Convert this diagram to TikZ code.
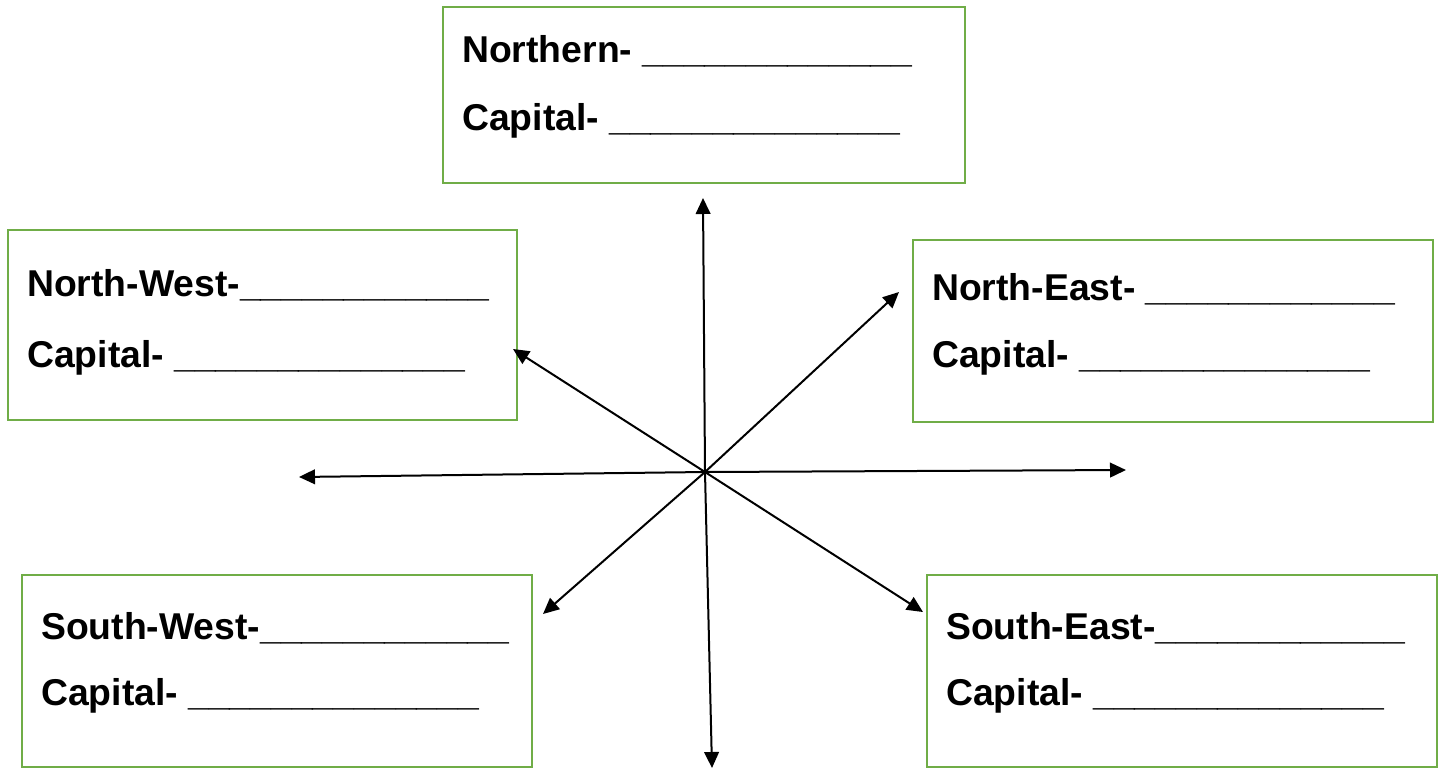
\documentclass[tikz,border=0pt]{standalone}
\usepackage{fontspec}
\setmainfont{Liberation Sans}
\usetikzlibrary{arrows.meta,fit}
\definecolor{boxgreen}{HTML}{70AD47}
\tikzset{
  regbox/.style={draw=boxgreen, line width=1.6pt, inner sep=0pt},
  lbl/.style={anchor=base west, inner sep=0pt, font=\fontsize{28}{34}\selectfont\bfseries},
  dirarrow/.style={line width=1.5pt, -{Triangle[length=12pt,width=11pt]}}
}
\begin{document}
\begin{tikzpicture}[x=0.75pt,y=-0.75pt]
\useasboundingbox (0,0) rectangle (1446,768);
\node[regbox, fit={(443,7) (965,183)}] (nbox) {};
\node[regbox, fit={(8,230) (517,420)}] (nwbox) {};
\node[regbox, fit={(913,240) (1433,422)}] (nebox) {};
\node[regbox, fit={(22,575) (532,767)}] (swbox) {};
\node[regbox, fit={(927,575) (1437,767)}] (sebox) {};
\node[lbl] (ntxt) at ([shift={(20,57)}]nbox.north west) {Northern- \_\_\_\_\_\_\_\_\_\_\_\_\_};
\node[lbl] (ncap) at ([shift={(20,125)}]nbox.north west) {Capital- \_\_\_\_\_\_\_\_\_\_\_\_\_\_};
\node[lbl] (nwtxt) at ([shift={(20,68)}]nwbox.north west) {North-West-\_\_\_\_\_\_\_\_\_\_\_\_};
\node[lbl] (nwcap) at ([shift={(20,139)}]nwbox.north west) {Capital- \_\_\_\_\_\_\_\_\_\_\_\_\_\_};
\node[lbl] (netxt) at ([shift={(20,62)}]nebox.north west) {North-East- \_\_\_\_\_\_\_\_\_\_\_\_};
\node[lbl] (necap) at ([shift={(20,129)}]nebox.north west) {Capital- \_\_\_\_\_\_\_\_\_\_\_\_\_\_};
\node[lbl] (swtxt) at ([shift={(20,66)}]swbox.north west) {South-West-\_\_\_\_\_\_\_\_\_\_\_\_};
\node[lbl] (swcap) at ([shift={(20,132)}]swbox.north west) {Capital- \_\_\_\_\_\_\_\_\_\_\_\_\_\_};
\node[lbl] (setxt) at ([shift={(20,66)}]sebox.north west) {South-East-\_\_\_\_\_\_\_\_\_\_\_\_};
\node[lbl] (secap) at ([shift={(20,132)}]sebox.north west) {Capital- \_\_\_\_\_\_\_\_\_\_\_\_\_\_};
\coordinate (ctr) at (705,472);
\coordinate (tipn) at (703,198);
\coordinate (tips) at (712,768);
\coordinate (tipw) at (299,477);
\coordinate (tipe) at (1126,470);
\coordinate (tipnw) at (513,349);
\coordinate (tipne) at (899,292);
\coordinate (tipsw) at (543,614);
\coordinate (tipse) at (923,612);
\draw[dirarrow](ctr) -- (tipn);
\draw[dirarrow](ctr) -- (tips);
\draw[dirarrow](ctr) -- (tipw);
\draw[dirarrow](ctr) -- (tipe);
\draw[dirarrow](ctr) -- (tipnw);
\draw[dirarrow](ctr) -- (tipne);
\draw[dirarrow](ctr) -- (tipsw);
\draw[dirarrow](ctr) -- (tipse);
\end{tikzpicture}
\end{document}
